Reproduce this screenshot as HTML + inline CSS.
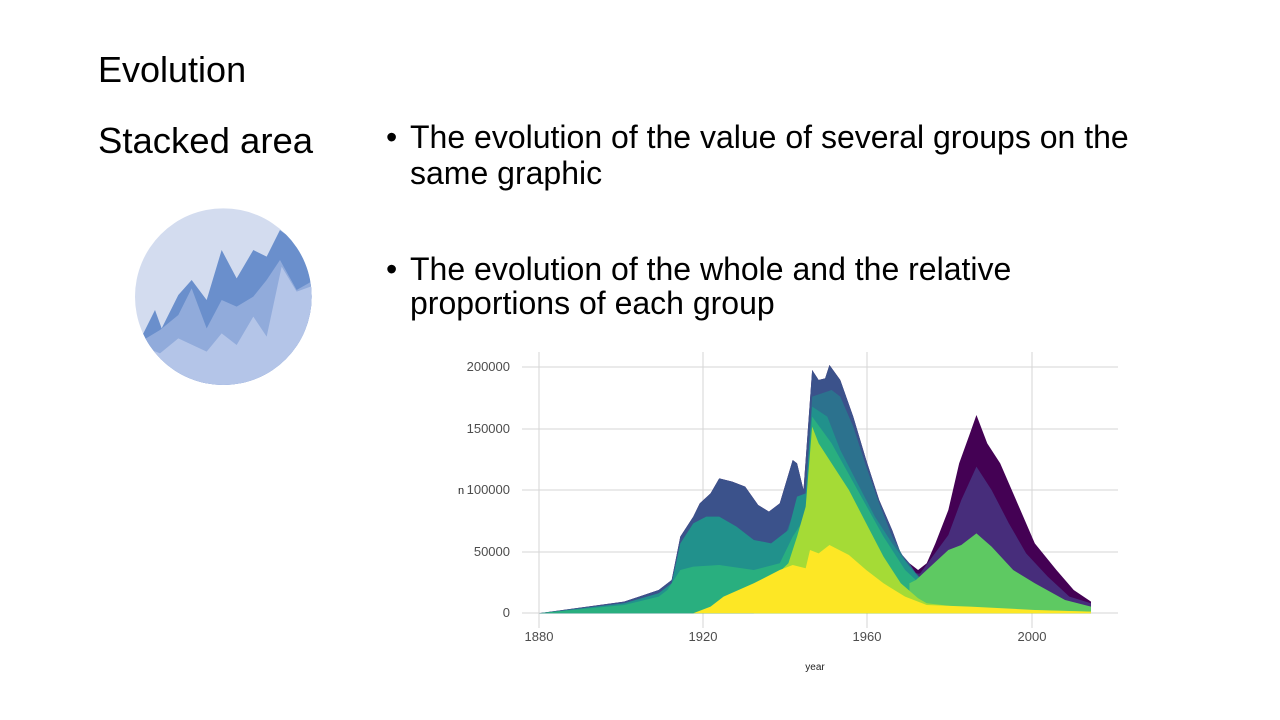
<!DOCTYPE html>
<html><head><meta charset="utf-8"><style>
body{margin:0;width:1280px;height:720px;background:#fff;overflow:hidden;position:relative;font-family:"Liberation Sans",sans-serif;}
.t{position:absolute;color:#000;white-space:nowrap}
</style></head><body>
<div class="t" style="left:98px;top:49px;font-size:36px">Evolution</div>
<div class="t" style="left:98px;top:120px;font-size:36.5px">Stacked area</div>
<div class="t" style="left:386px;top:119px;font-size:32px;line-height:36px">•</div>
<div class="t" style="left:410px;top:119px;font-size:32px;line-height:36px">The evolution of the value of several groups on the<br>same graphic</div>
<div class="t" style="left:386px;top:252px;font-size:32px;line-height:34px">•</div>
<div class="t" style="left:410px;top:252px;font-size:32px;line-height:34px">The evolution of the whole and the relative<br>proportions of each group</div>
<svg width="1280" height="720" style="position:absolute;left:0;top:0">
<defs><clipPath id="cc"><circle cx="310" cy="290" r="265"/></clipPath></defs>
<g transform="translate(120,200) scale(0.3333)">
<circle cx="310" cy="290" r="265" fill="#d3dcef"/>
<g clip-path="url(#cc)">
<polygon fill="#6a8fcc" points="40,420 70,400 105,330 125,385 175,285 215,240 260,300 305,150 350,235 400,150 440,170 480,90 520,120 600,200 600,600 40,600"/>
<polygon fill="#91abdb" points="40,430 70,420 120,390 175,345 215,265 260,385 305,300 350,320 400,290 440,240 480,180 530,270 600,230 600,600 40,600"/>
<polygon fill="#b4c5e8" points="40,450 70,440 120,460 175,415 260,455 305,400 350,435 400,350 440,410 485,200 530,275 600,250 600,600 40,600"/>
</g></g>
<g stroke="#d6d6d6" stroke-width="1">
<line x1="522" y1="367" x2="1118" y2="367"/><line x1="522" y1="429" x2="1118" y2="429"/><line x1="522" y1="490" x2="1118" y2="490"/><line x1="522" y1="552" x2="1118" y2="552"/><line x1="522" y1="613" x2="1118" y2="613"/>
<line x1="539" y1="352" x2="539" y2="628"/><line x1="703" y1="352" x2="703" y2="628"/><line x1="867" y1="352" x2="867" y2="628"/><line x1="1032" y1="352" x2="1032" y2="628"/>
</g>
<g transform="matrix(0.4323 0 0 0.3333 451.2 350)">
<polygon fill="#440154" points="203,790 400,755 480,720 510,690 530,560 560,500 575,460 600,430 620,385 650,395 680,410 710,465 735,485 760,460 790,330 800,340 815,420 835,60 850,90 865,85 875,45 900,90 930,200 960,330 990,450 1020,540 1040,610 1060,640 1080,660 1100,640 1120,580 1150,480 1175,340 1200,250 1215,195 1240,280 1270,340 1310,460 1350,580 1400,660 1440,720 1480,755 1480,790"/>
<polygon fill="#3b528b" points="203,790 400,755 480,720 510,690 530,560 560,500 575,460 600,430 620,385 650,395 680,410 710,465 735,485 760,460 790,330 800,340 815,420 835,60 850,90 865,85 875,45 900,90 930,200 960,330 990,450 1020,540 1040,610 1060,640 1075,670 1480,790"/>
<polygon fill="#472d7b" points="1060,680 1085,670 1150,555 1180,450 1215,350 1250,420 1290,520 1330,610 1380,680 1430,740 1480,760 1480,790 1060,790"/>
<polygon fill="#2c728e" points="760,600 800,460 820,430 835,140 880,120 900,140 930,230 960,350 990,460 1020,560 1050,630 1075,670 1090,690 1090,790 760,790"/>
<polygon fill="#21918c" points="203,790 400,760 480,730 510,700 530,580 560,520 590,500 620,500 660,530 700,570 740,580 780,540 800,440 820,430 835,170 870,200 900,300 940,400 980,500 1020,580 1060,650 1080,680 1080,790"/>
<polygon fill="#29af7f" points="203,790 400,765 480,740 500,720 530,660 560,650 620,645 700,660 760,640 790,560 810,520 820,480 835,200 880,280 940,420 1000,560 1050,660 1075,690 1075,790"/>
<polygon fill="#5ec962" points="1060,700 1075,690 1100,660 1150,600 1180,585 1215,550 1250,590 1300,660 1350,700 1420,750 1480,770 1480,790 1060,790"/>
<polygon fill="#a5db36" points="700,790 740,690 780,640 800,560 820,470 835,230 850,280 880,340 920,420 960,520 1000,620 1040,700 1080,745 1100,760 1200,775 1480,785 1480,790"/>
<polygon fill="#fde725" points="560,790 600,770 630,740 700,700 760,660 790,645 820,655 830,600 850,610 875,585 920,615 960,660 1000,700 1050,740 1100,765 1200,770 1350,780 1480,785 1480,790"/>
</g>
<g font-family="Liberation Sans,sans-serif" font-size="13" fill="#4d4d4d" text-anchor="end">
<text x="510" y="371">200000</text><text x="510" y="433">150000</text><text x="510" y="494">100000</text><text x="510" y="556">50000</text><text x="510" y="617">0</text>
</g>
<text x="461" y="494" font-family="Liberation Sans,sans-serif" font-size="11" fill="#222" text-anchor="middle">n</text>
<g font-family="Liberation Sans,sans-serif" font-size="13" fill="#4d4d4d" text-anchor="middle">
<text x="539" y="641">1880</text><text x="703" y="641">1920</text><text x="867" y="641">1960</text><text x="1032" y="641">2000</text>
</g>
<text x="815" y="670" font-family="Liberation Sans,sans-serif" font-size="10" fill="#222" text-anchor="middle">year</text>
</svg>
</body></html>
